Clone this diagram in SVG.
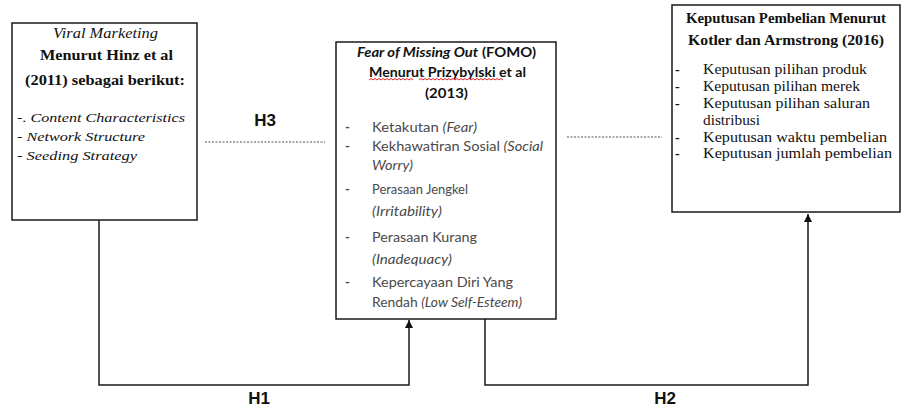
<svg xmlns="http://www.w3.org/2000/svg" width="907" height="409" viewBox="0 0 907 409">
<style>
.box{fill:#fff;stroke:#1a1a1a;stroke-width:1.5}
.ser{font-family:"Liberation Serif","Times New Roman",serif;fill:#111}
.sans{font-family:Lato,"Liberation Sans",sans-serif}
.b{font-weight:bold}
.i{font-style:italic}
.gray{fill:#4a4a4a}
.line{fill:none;stroke:#1a1a1a;stroke-width:1.5}
.dot{fill:none;stroke:#555;stroke-width:1.2;stroke-dasharray:2 1.5}
.h{font-family:"Liberation Sans",Arial,sans-serif;font-weight:bold;font-size:17px;fill:#111;text-anchor:middle}
.sq{fill:none;stroke:#e02020;stroke-width:1}
</style>
<defs>
<marker id="arr" viewBox="0 0 10 10" refX="10" refY="5" markerWidth="8" markerHeight="8" markerUnits="userSpaceOnUse" orient="auto">
<path d="M0,0 L10,5 L0,10 Z" fill="#111"/>
</marker>
</defs>

<g id="connectors">
<path class="line" d="M99,220 V385 H409 V320" marker-end="url(#arr)"/>
<path class="line" d="M485,319 V385 H808 V214" marker-end="url(#arr)"/>
<line class="dot" x1="205" y1="142" x2="325" y2="142"/>
<line class="dot" x1="567" y1="137" x2="662" y2="137"/>
<text class="h" x="265" y="126">H3</text>
<text class="h" x="259" y="404">H1</text>
<text class="h" x="665" y="404">H2</text>
</g>

<g id="viral-marketing">
<rect class="box" x="12" y="23" width="185" height="197"/>
<text class="ser i" x="105.5" y="38" font-size="14" text-anchor="middle" textLength="105" lengthAdjust="spacingAndGlyphs">Viral Marketing</text>
<text class="ser b" x="106.5" y="60" font-size="15" text-anchor="middle" textLength="133" lengthAdjust="spacingAndGlyphs">Menurut Hinz et al</text>
<text class="ser b" x="105" y="85" font-size="15" text-anchor="middle" textLength="160" lengthAdjust="spacingAndGlyphs">(2011) sebagai berikut:</text>
<text class="ser" x="17" y="122" font-size="13" textLength="168" lengthAdjust="spacingAndGlyphs">-. <tspan class="i">Content Characteristics</tspan></text>
<text class="ser" x="17" y="141" font-size="13" textLength="128" lengthAdjust="spacingAndGlyphs">- <tspan class="i">Network Structure</tspan></text>
<text class="ser" x="17" y="160" font-size="13" textLength="120" lengthAdjust="spacingAndGlyphs">- <tspan class="i">Seeding Strategy</tspan></text>
</g>

<g id="fomo">
<rect class="box" x="336" y="42" width="220" height="277"/>
<text class="sans b" x="446.5" y="57" font-size="13" text-anchor="middle" fill="#111" textLength="179" lengthAdjust="spacingAndGlyphs"><tspan class="i">Fear of Missing Out</tspan> (FOMO)</text>
<text class="sans b" x="447.5" y="77" font-size="13" text-anchor="middle" fill="#111" textLength="157" lengthAdjust="spacingAndGlyphs">Menurut Prizybylski et al</text>
<path class="sq" d="M369,80 l2,-1.5 l2,1.5 l2,-1.5 l2,1.5 l2,-1.5 l2,1.5 l2,-1.5 l2,1.5 l2,-1.5 l2,1.5 l2,-1.5 l2,1.5 l2,-1.5 l2,1.5 l2,-1.5 l2,1.5 l2,-1.5 l2,1.5 l2,-1.5 l2,1.5 l2,-1.5 l2,1.5"/>
<path class="sq" d="M419,80 l2,-1.5 l2,1.5 l2,-1.5 l2,1.5 l2,-1.5 l2,1.5 l2,-1.5 l2,1.5 l2,-1.5 l2,1.5 l2,-1.5 l2,1.5 l2,-1.5 l2,1.5 l2,-1.5 l2,1.5 l2,-1.5 l2,1.5 l2,-1.5 l2,1.5 l2,-1.5 l2,1.5 l2,-1.5 l2,1.5 l2,-1.5 l2,1.5 l2,-1.5 l2,1.5 l2,-1.5 l2,1.5 l2,-1.5 l2,1.5 l2,-1.5 l2,1.5 l2,-1.5 l2,1.5 l2,-1.5 l2,1.5 l2,-1.5 l2,1.5 l2,-1.5 l2,1.5"/>
<text class="sans b" x="446.5" y="98" font-size="13" text-anchor="middle" fill="#111" textLength="43" lengthAdjust="spacingAndGlyphs">(2013)</text>
<g class="sans gray" font-size="13">
<text x="345" y="132" font-weight="bold">-</text>
<text x="372" y="132" textLength="105" lengthAdjust="spacingAndGlyphs">Ketakutan <tspan class="i">(Fear)</tspan></text>
<text x="345" y="151" font-weight="bold">-</text>
<text x="372" y="151" textLength="171" lengthAdjust="spacingAndGlyphs">Kekhawatiran Sosial <tspan class="i">(Social</tspan></text>
<text class="i" x="372" y="170" textLength="41" lengthAdjust="spacingAndGlyphs">Worry)</text>
<text x="345" y="194" font-weight="bold">-</text>
<text x="372" y="194" textLength="96" lengthAdjust="spacingAndGlyphs">Perasaan Jengkel</text>
<text class="i" x="372" y="216" textLength="70" lengthAdjust="spacingAndGlyphs">(Irritability)</text>
<text x="345" y="242" font-weight="bold">-</text>
<text x="372" y="242" textLength="105" lengthAdjust="spacingAndGlyphs">Perasaan Kurang</text>
<text class="i" x="372" y="264" textLength="80" lengthAdjust="spacingAndGlyphs">(Inadequacy)</text>
<text x="345" y="287" font-weight="bold">-</text>
<text x="372" y="287" textLength="141" lengthAdjust="spacingAndGlyphs">Kepercayaan Diri Yang</text>
<text x="372" y="307" textLength="150" lengthAdjust="spacingAndGlyphs">Rendah <tspan class="i">(Low Self-Esteem)</tspan></text>
</g>
</g>

<g id="keputusan-pembelian">
<rect class="box" x="672" y="5" width="228" height="207"/>
<text class="ser b" x="786" y="23" font-size="14" text-anchor="middle" textLength="200" lengthAdjust="spacingAndGlyphs">Keputusan Pembelian Menurut</text>
<text class="ser b" x="786" y="45" font-size="14" text-anchor="middle" textLength="196" lengthAdjust="spacingAndGlyphs">Kotler dan Armstrong (2016)</text>
<g class="ser" font-size="14">
<text x="675" y="74" font-weight="bold">-</text>
<text x="703" y="74" textLength="164" lengthAdjust="spacingAndGlyphs">Keputusan pilihan produk</text>
<text x="675" y="91" font-weight="bold">-</text>
<text x="703" y="91" textLength="157" lengthAdjust="spacingAndGlyphs">Keputusan pilihan merek</text>
<text x="675" y="108" font-weight="bold">-</text>
<text x="703" y="108" textLength="167" lengthAdjust="spacingAndGlyphs">Keputusan pilihan saluran</text>
<text x="703" y="125" textLength="57" lengthAdjust="spacingAndGlyphs">distribusi</text>
<text x="675" y="142" font-weight="bold">-</text>
<text x="703" y="142" textLength="184" lengthAdjust="spacingAndGlyphs">Keputusan waktu pembelian</text>
<text x="675" y="158" font-weight="bold">-</text>
<text x="703" y="158" textLength="189" lengthAdjust="spacingAndGlyphs">Keputusan jumlah pembelian</text>
</g>
</g>
</svg>
